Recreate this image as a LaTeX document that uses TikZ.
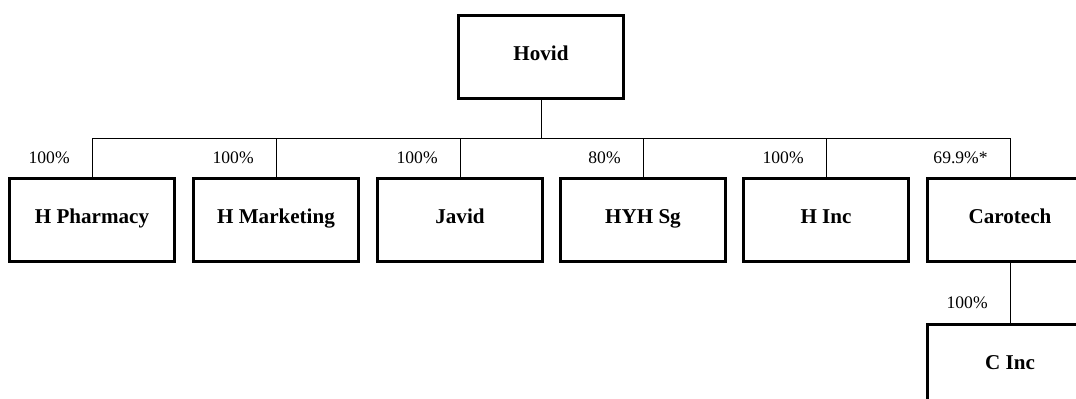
\documentclass[tikz,border=0pt]{standalone}
\usepackage{fontspec}
\setmainfont{Liberation Serif}
\begin{document}
\begin{tikzpicture}[x=0.02cm, y=-0.02cm,
    company/.style={draw, line width=1.2pt, minimum width=3.3cm, minimum height=1.66cm,
        inner sep=0pt, text height=8pt, text depth=4.5pt,
        font=\bfseries\fontsize{12}{14}\selectfont},
    share/.style={anchor=east, inner sep=0pt, font=\fontsize{10}{12}\selectfont},
    link/.style={line width=0.5pt}]
\useasboundingbox (0,0) rectangle (1076,399);
% parent
\node[company] (hovid) at (541,57) {Hovid};
\coordinate (bus) at (541,138);
\draw[link] (hovid.south) -- (bus);
% subsidiaries
\foreach \name/\x/\txt/\pc in {pharm/92/H Pharmacy/100\%, mktg/276/H Marketing/100\%,
    javid/460/Javid/100\%, hyh/643/HYH Sg/80\%, hinc/826/H Inc/100\%, caro/1010/Carotech/69.9\%*}
{
    \node[company] (\name) at (\x,220) {\txt};
    \draw[link] (bus) -| (\name.north);
    \path (\name.north |- bus) ++(-22,20) node[share] {\pc};
}
\node[company] (cinc) at (1010,366) {C Inc};
\draw[link] (caro.south) -- (cinc.north);
\path (cinc.north) ++(-22,-21) node[share] {100\%};
\end{tikzpicture}
\end{document}
